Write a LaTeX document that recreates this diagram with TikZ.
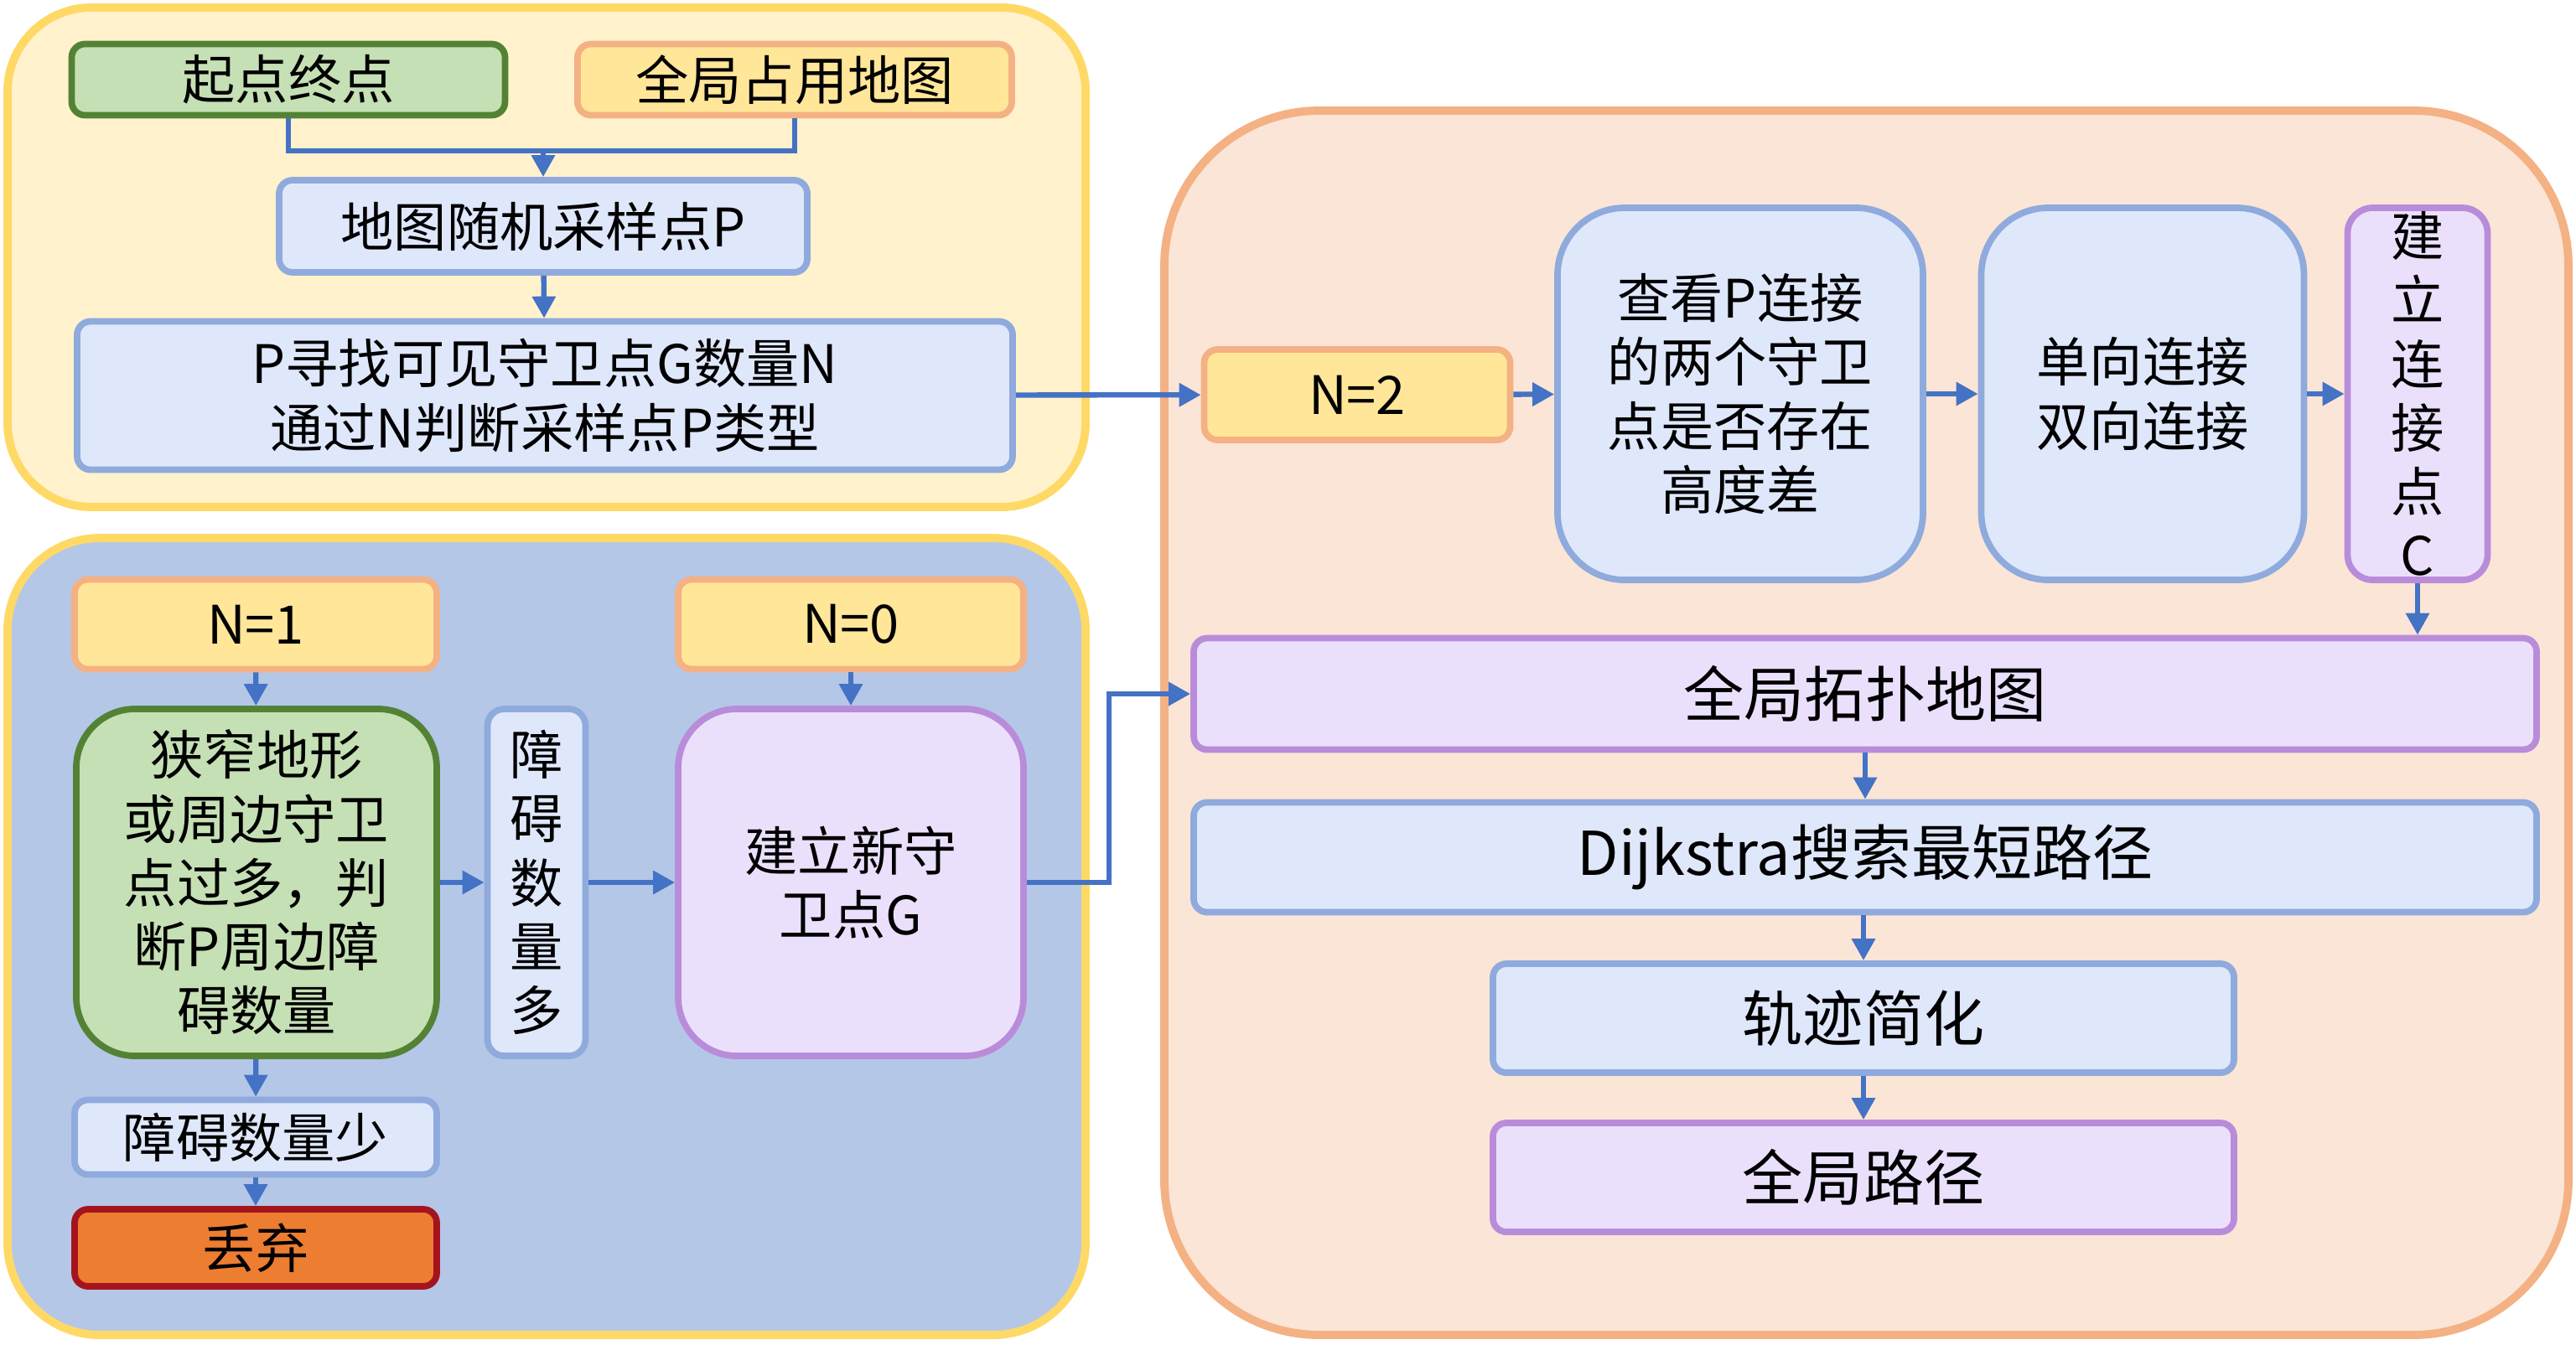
\documentclass[tikz,border=0pt]{standalone}
\usepackage{fontspec}
\setmainfont{Noto Sans CJK SC}
\usetikzlibrary{arrows.meta, positioning}

\definecolor{arrowblue}{HTML}{4472C4}
\definecolor{grpyellow}{HTML}{FFF2CC}
\definecolor{grpyellowline}{HTML}{FFD966}
\definecolor{grpblue}{HTML}{B4C7E7}
\definecolor{grporange}{HTML}{FBE5D6}
\definecolor{grporangeline}{HTML}{F4B183}
\definecolor{nodegreen}{HTML}{C5E0B4}
\definecolor{nodegreenline}{HTML}{548235}
\definecolor{nodeyellow}{HTML}{FFE699}
\definecolor{nodeblue}{HTML}{DFE7FB}
\definecolor{nodeblueline}{HTML}{8FAADC}
\definecolor{nodepurple}{HTML}{EBE0FB}
\definecolor{nodepurpleline}{HTML}{B98CDA}
\definecolor{nodered}{HTML}{ED7D31}
\definecolor{noderedline}{HTML}{A5141E}

\begin{document}
\begin{tikzpicture}[
    box/.style={draw, rounded corners=0.16cm, line width=2.2pt, align=center, inner sep=0pt,
        font=\fontsize{18}{21.7}\selectfont},
    box_green/.style={box, fill=nodegreen, draw=nodegreenline},
    box_yellow/.style={box, fill=nodeyellow, draw=grporangeline},
    box_blue/.style={box, fill=nodeblue, draw=nodeblueline},
    box_purple/.style={box, fill=nodepurple, draw=nodepurpleline},
    box_red/.style={box, fill=nodered, draw=noderedline},
    big/.style={font=\fontsize{20.5}{24}\selectfont},
    group/.style={line width=2.8pt},
    link/.style={line width=1.8pt, arrowblue},
    arrow/.style={-{Triangle[length=0.26cm, width=0.27cm]}, line width=1.8pt, arrowblue}
]

\useasboundingbox (0,0) rectangle (30.73,-16.04);

% groups
\draw[group, fill=grpyellow, draw=grpyellowline, rounded corners=1cm] (0.09,-0.09) rectangle (12.95,-6.05);
\draw[group, fill=grpblue, draw=grpyellowline, rounded corners=1.1cm] (0.09,-6.42) rectangle (12.95,-15.93);
\draw[group, fill=grporange, draw=grporangeline, rounded corners=1.85cm] (13.89,-1.32) rectangle (30.64,-15.93);

% top group
\node[box_green, minimum width=5.17cm, minimum height=0.85cm] (start) at (3.44,-0.95) {起点终点};
\node[box_yellow, minimum width=5.18cm, minimum height=0.85cm] (occ) at (9.48,-0.95) {全局占用地图};
\node[box_blue, minimum width=6.30cm, minimum height=1.10cm] (sample) at (6.48,-2.70) {地图随机采样点P};
\node[box_blue, minimum width=11.16cm, minimum height=1.77cm] (find) at (6.50,-4.72) {P寻找可见守卫点G数量N\\通过N判断采样点P类型};
\coordinate (join) at (6.48,-1.80);

% right group
\node[box_yellow, minimum width=3.65cm, minimum height=1.08cm] (n2) at (16.19,-4.71) {N=2};
\node[box_blue, rounded corners=0.8cm, minimum width=4.36cm, minimum height=4.44cm] (check) at (20.76,-4.70) {查看P连接\\的两个守卫\\点是否存在\\高度差};
\node[box_blue, rounded corners=0.8cm, minimum width=3.85cm, minimum height=4.44cm] (single) at (25.56,-4.70) {单向连接\\双向连接};
\node[box_purple, rounded corners=0.3cm, minimum width=1.67cm, minimum height=4.44cm] (buildc) at (28.84,-4.70) {建\\立\\连\\接\\点\\C};
\node[box_purple, big, minimum width=16.02cm, minimum height=1.33cm] (topo) at (22.25,-8.28) {全局拓扑地图};
\node[box_blue, big, minimum width=16.02cm, minimum height=1.31cm] (dijk) at (22.25,-10.23) {Dijkstra搜索最短路径};
\node[box_blue, big, minimum width=8.84cm, minimum height=1.30cm] (simp) at (22.23,-12.15) {轨迹简化};
\node[box_purple, big, minimum width=8.84cm, minimum height=1.30cm] (gpath) at (22.23,-14.05) {全局路径};

% bottom group
\node[box_yellow, minimum width=4.32cm, minimum height=1.07cm] (n1) at (3.05,-7.45) {N=1};
\node[box_yellow, minimum width=4.12cm, minimum height=1.07cm] (n0) at (10.15,-7.45) {N=0};
\node[box_green, rounded corners=0.7cm, minimum width=4.30cm, minimum height=4.14cm] (narrow) at (3.06,-10.53) {狭窄地形\\或周边守卫\\点过多，判\\断P周边障\\碍数量};
\node[box_blue, rounded corners=0.2cm, minimum width=1.17cm, minimum height=4.14cm] (many) at (6.40,-10.53) {障\\碍\\数\\量\\多};
\node[box_purple, rounded corners=0.7cm, minimum width=4.12cm, minimum height=4.14cm] (newg) at (10.15,-10.53) {建立新守\\卫点G};
\node[box_blue, minimum width=4.32cm, minimum height=0.89cm] (few) at (3.05,-13.57) {障碍数量少};
\node[box_red, minimum width=4.32cm, minimum height=0.92cm] (drop) at (3.05,-14.89) {丢弃};

% edges top
\draw[link] (start.south) |- (join) -| (occ.south);
\draw[arrow] (join) -- (sample.north);
\draw[arrow] (sample) -- (find);
\draw[arrow] (find) -- (n2);

% edges right
\draw[arrow] (n2) -- (check);
\draw[arrow] (check) -- (single);
\draw[arrow] (single) -- (buildc);
\draw[arrow] (buildc.south) -- (buildc.south |- topo.north);
\draw[arrow] (topo) -- (dijk);
\draw[arrow] (dijk.south -| simp.north) -- (simp);
\draw[arrow] (simp) -- (gpath);

% edges bottom
\draw[arrow] (n1) -- (narrow);
\draw[arrow] (narrow) -- (many);
\draw[arrow] (many) -- (newg);
\draw[arrow] (n0) -- (newg);
\draw[arrow] (narrow) -- (few);
\draw[arrow] (few) -- (drop);
\draw[arrow] (newg.east) -- ++(0.98,0) |- (topo.west);

\end{tikzpicture}
\end{document}
